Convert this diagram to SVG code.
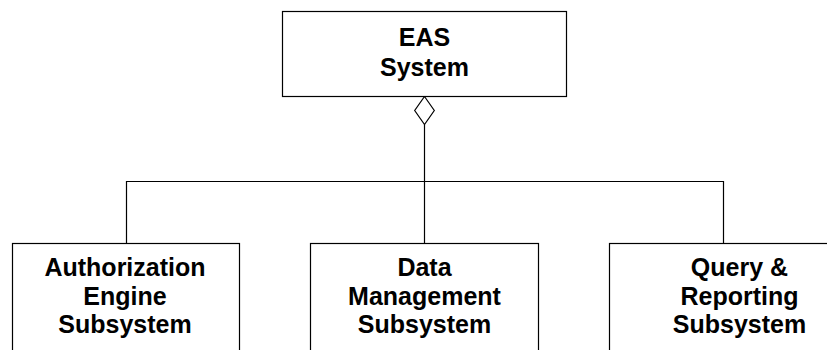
<svg xmlns="http://www.w3.org/2000/svg" width="827" height="350" viewBox="0 0 827 350">
<style>
.box{fill:#fff;stroke:#000;stroke-width:1.2}
.t{font-family:"Liberation Sans",Arial,sans-serif;font-weight:bold;font-size:25px;text-anchor:middle;fill:#000}
.c{fill:none;stroke:#000;stroke-width:1.2}
</style>
<rect width="827" height="350" fill="#fff"/>
<g id="connectors">
<path class="c" d="M424.5,124.5 V243.5"/>
<path class="c" d="M126.5,243.5 V181.5 H723.5 V243.5"/>
<polygon class="c" fill="#fff" points="424.5,96.5 434.3,110.5 424.5,124.5 414.7,110.5"/>
</g>
<g id="eas">
<rect class="box" x="282.5" y="11.5" width="284" height="85"/>
<text class="t" x="424.5" y="46">EAS</text>
<text class="t" x="424.5" y="75.5">System</text>
</g>
<g id="auth">
<rect class="box" x="12.5" y="243.5" width="227" height="120"/>
<text class="t" x="125" y="276">Authorization</text>
<text class="t" x="125" y="304.5">Engine</text>
<text class="t" x="125" y="333">Subsystem</text>
</g>
<g id="data">
<rect class="box" x="310.5" y="243.5" width="228" height="120"/>
<text class="t" x="424.5" y="276">Data</text>
<text class="t" x="424.5" y="304.5">Management</text>
<text class="t" x="424.5" y="333">Subsystem</text>
</g>
<g id="query">
<rect class="box" x="609.5" y="243.5" width="260" height="120"/>
<text class="t" x="739.5" y="276">Query &amp;</text>
<text class="t" x="739.5" y="304.5">Reporting</text>
<text class="t" x="739.5" y="333">Subsystem</text>
</g>
</svg>
